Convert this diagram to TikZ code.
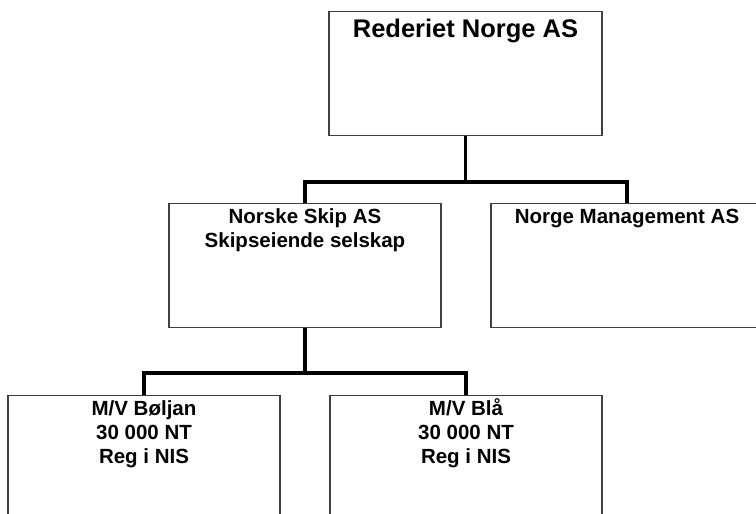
\documentclass[tikz,border=0pt]{standalone}
\usepackage{fontspec}
\setmainfont{Liberation Sans}

\newcommand{\orgtext}[3][20pt]{\begin{minipage}[t][124pt][t]{#2}\centering\rule{0pt}{#1}#3\end{minipage}}

\tikzset{
    orgbox/.style={draw=black!75, line width=1.3pt, inner sep=0pt, anchor=north,
            font=\bfseries\fontsize{20.5}{24}\selectfont},
    link/.style={line width=3.8pt},
}

\begin{document}
\begin{tikzpicture}[x=1pt, y=-1pt]
            \useasboundingbox (0,0) rectangle (756,514);
            \begin{scope}

                \clip (0,0) rectangle (756,514); % boxes run off the page
                \node[orgbox, font=\bfseries\fontsize{25.5}{30}\selectfont] (rederiet) at (465.5,11)
                    {\orgtext[25.5pt]{273pt}{Rederiet Norge AS}};
                \node[orgbox] (norske) at (305,203) {\orgtext{272pt}{Norske Skip AS\\Skipseiende selskap}};
                \node[orgbox] (mgmt) at (627,203) {\orgtext{272pt}{Norge Management AS}};
                \node[orgbox] (boljan) at (144,395) {\orgtext{272pt}{M/V Bøljan\\30 000 NT\\Reg i NIS}};
                \node[orgbox] (blaa) at (466,395) {\orgtext{272pt}{M/V Blå\\30 000 NT\\Reg i NIS}};

                % split points of the two buses
                \coordinate (split1) at (rederiet.south |- 0,182);
                \coordinate (split2) at (norske.south |- 0,373);

                \draw[link] (rederiet.south) -- (split1);
                \draw[link] (norske.north) |- (split1) -| (mgmt.north);
                \draw[link] (norske.south) -- (split2);
                \draw[link] (boljan.north) |- (split2) -| (blaa.north);
            \end{scope}
        \end{tikzpicture}
\end{document}
